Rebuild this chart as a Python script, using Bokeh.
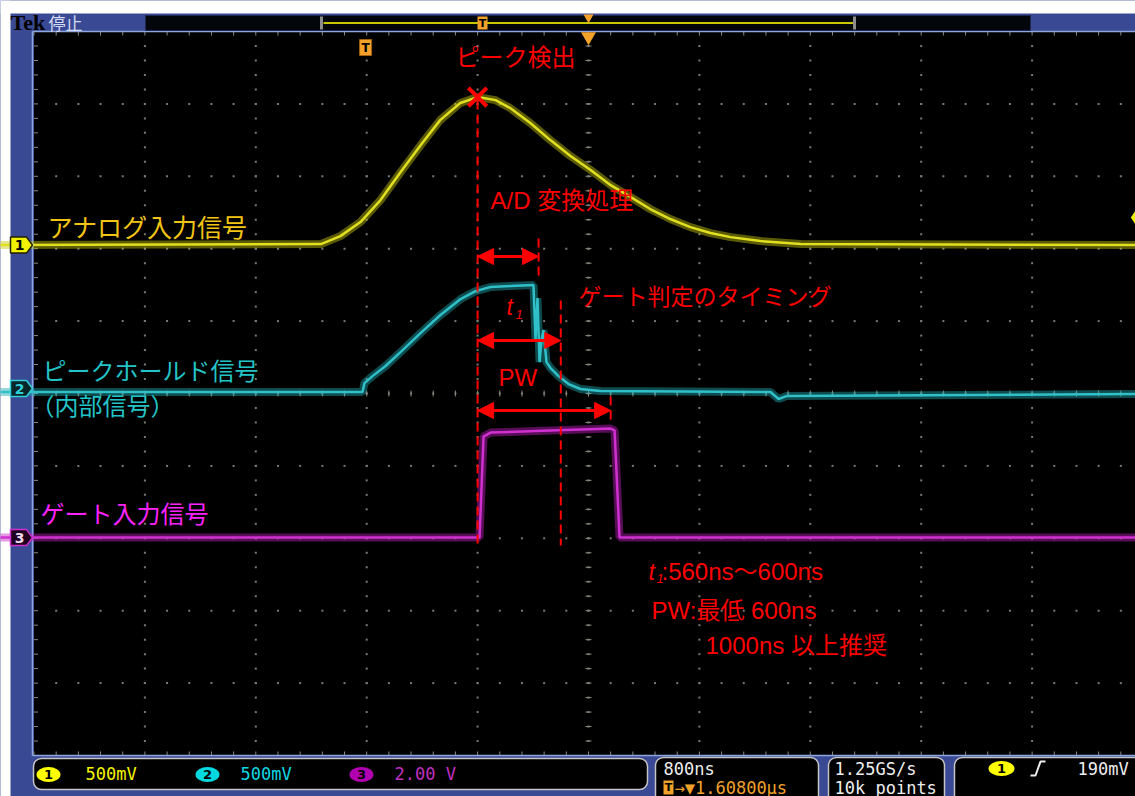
import numpy as np
from bokeh.plotting import figure
from bokeh.models import Range1d, Arrow, NormalHead
from bokeh.core.properties import value
from bokeh.embed import file_html
from bokeh.resources import INLINE

# ---------------- data ----------------
time_per_div_ns = 800          # horizontal scale
ch1_scale_v = 0.5              # V/div
ch2_scale_v = 0.5
ch3_scale_v = 2.0
ch1_offset_div = 2.05          # channel position on screen (divisions)
ch2_offset_div = 0.02
ch3_offset_div = -1.99
trigger_level_v = 0.19
trigger_pos_ns = -1608         # trigger point relative to screen centre

# CH1: analog input signal (time ns, volts)
ch1_t = [-4300, -1930, -1790, -1645, -1500, -1355, -1210, -1070, -925, -800, -670, -565,
         -420, -275, -130, 15, 160, 305, 445, 590, 735, 880, 1025, 1240, 1530, 4000]
ch1_v = [0.0, 0.007, 0.062, 0.159, 0.311, 0.504, 0.691, 0.863, 0.981, 1.022, 1.001, 0.946,
         0.843, 0.725, 0.615, 0.518, 0.414, 0.331, 0.249, 0.180, 0.124, 0.083, 0.055, 0.028, 0.007, 0.0]

# CH2: peak-hold signal (internal)
ch2_t = [-4300, -1630, -1616, -1558, -1464, -1356, -1212, -1068, -923, -815, -707, -563,
         -397, -382, -368, -353, -339, -325, -303, -274, -216, -144, -58, 87, 1313, 1371, 1428, 4000]
ch2_v = [0.0, 0.0, 0.062, 0.110, 0.180, 0.276, 0.407, 0.532, 0.642, 0.697, 0.725, 0.732,
         0.739, 0.359, 0.649, 0.207, 0.359, 0.428, 0.207, 0.166, 0.110, 0.055, 0.021, 0.007,
         0.0, -0.048, -0.028, -0.014]

# CH3: gate input signal
ch3_t = [-4300, -786, -757, -707, -274, 159, 188, 224, 4000]
ch3_v = [0.0, 0.0, 2.79, 2.90, 2.96, 3.01, 2.96, 0.0, 0.0]

# annotation timings (ns)
t_ad_end = -360
t_gate_judge = -200
t_gate_end = 160
i_pk = int(np.argmax(ch1_v))
t_peak = ch1_t[i_pk]
v_peak = ch1_v[i_pk]

# status texts
ch_scale_txt = ["500mV", "500mV", "2.00 V"]
horiz_txt = ["800ns", "1.60800µs"]
acq_txt = ["1.25GS/s", "10k points"]
trig_txt = "190mV"

# ---------------- layout helpers (screen pixels -> data) ----------------
W, H = 1135, 796
CX, CY = 588.0, 393.0
PXD_X, PXD_Y = 110.9, 72.4


def X(px):
    return (px - CX) / PXD_X * time_per_div_ns


def Y(py):
    return (CY - py) / PXD_Y


def DX(px):
    return px / PXD_X * time_per_div_ns


def DY(px):
    return px / PXD_Y


def ch_range(off, sc):
    return Range1d((Y(H) - off) * sc, (Y(0) - off) * sc)


BLUE = "#3a4994"
JP = "Noto Sans CJK JP"
RED_FONT = "Liberation Sans, Noto Sans CJK JP"
MONO = "DejaVu Sans Mono"
RED = "#ff0000"
ORANGE = "#f2a22a"

p = figure(width=W, height=H, x_range=Range1d(X(0), X(W)), y_range=Range1d(Y(H), Y(0)),
           output_backend="svg", toolbar_location=None,
           x_axis_location=None, y_axis_location=None, min_border=0,
           background_fill_color=BLUE, border_fill_color=BLUE, outline_line_color=None)
p.xgrid.visible = False
p.ygrid.visible = False
p.extra_y_ranges = {
    "ch1": ch_range(ch1_offset_div, ch1_scale_v),
    "ch2": ch_range(ch2_offset_div, ch2_scale_v),
    "ch3": ch_range(ch3_offset_div, ch3_scale_v),
}


def txt(px, py, s, color, size, font, style="normal", align="left", baseline="middle"):
    p.text(x=[X(px)], y=[Y(py)], text=[s], text_color=color, text_font_size=f"{size}px",
           text_font=value(font), text_font_style=style, text_align=align,
           text_baseline=baseline)


# white page margins
p.quad(left=[X(0)], right=[X(10)], bottom=[Y(H)], top=[Y(0)], fill_color="white", line_color=None)
p.quad(left=[X(0)], right=[X(W)], bottom=[Y(13)], top=[Y(0)], fill_color="white", line_color=None)

# screen
half = 5 * time_per_div_ns
p.quad(left=[-half], right=[half], bottom=[-5], top=[5], fill_color="black", line_color=None)

# graticule
maj_x = np.arange(-5, 6) * time_per_div_ns
min_x = np.arange(-25, 26) * time_per_div_ns / 5
maj_y = np.arange(-5, 6).astype(float)
min_y = np.arange(-25, 26) / 5
gx, gy = [], []
for mx in maj_x[1:-1]:
    for my in min_y[1:-1]:
        gx.append(mx); gy.append(my)
for my in maj_y[1:-1]:
    for mx in min_x[1:-1]:
        gx.append(mx); gy.append(my)
p.scatter(gx, gy, marker="square", size=2, fill_color="#7a7a72", line_color=None)
GT = "#8a8a80"
n = len(min_y)
p.segment(x0=[-DX(3)] * n, x1=[DX(3)] * n, y0=min_y, y1=min_y, line_color=GT, line_width=1)
p.segment(x0=min_x, x1=min_x, y0=[-DY(3)] * n, y1=[DY(3)] * n, line_color=GT, line_width=1)
p.segment(x0=min_x, x1=min_x, y0=[5] * n, y1=[5 - DY(4)] * n, line_color=GT, line_width=1)
p.segment(x0=min_x, x1=min_x, y0=[-5] * n, y1=[-5 + DY(4)] * n, line_color=GT, line_width=1)
p.segment(x0=[-half] * n, x1=[-half + DX(4)] * n, y0=min_y, y1=min_y, line_color=GT, line_width=1)

# screen border
BL = "#8ea6de"
p.segment(x0=[X(32)], y0=[Y(31)], x1=[X(32)], y1=[Y(755)], line_color=BL, line_width=1.5)
p.segment(x0=[X(32)], y0=[Y(31)], x1=[X(W)], y1=[Y(31)], line_color=BL, line_width=1.5)
p.segment(x0=[X(32)], y0=[Y(755)], x1=[X(W)], y1=[Y(755)], line_color=BL, line_width=1.5)

# traces (a wide translucent band stands in for the scope's noise)
def trace(t, v, rng, core, halo):
    p.line(t, v, y_range_name=rng, line_color=halo, line_width=8, line_alpha=0.45)
    p.line(t, v, y_range_name=rng, line_color=core, line_width=2.5)


trace(ch3_t, ch3_v, "ch3", "#d030d0", "#c020c0")
trace(ch2_t, ch2_v, "ch2", "#30c0c8", "#20a8b0")
trace(ch1_t, ch1_v, "ch1", "#e0e020", "#c8c810")

# channel labels
txt(47, 225, "アナログ入力信号", "#f2c414", 25, JP)
txt(42, 369, "ピークホールド信号", "#22c4c8", 24, JP)
txt(30, 404, "（内部信号）", "#22c4c8", 24, JP)
txt(40, 512, "ゲート入力信号", "#ff22ff", 24, JP)

# red annotations
p.scatter([t_peak], [v_peak], y_range_name="ch1", marker="x", size=26, line_width=4,
          line_color=RED)
txt(455, 57, "ピーク検出", RED, 24, RED_FONT)
DASH = "9 5"
p.segment(x0=[t_peak], x1=[t_peak], y0=[Y(100)], y1=[Y(545)], line_color=RED, line_width=2, line_dash=DASH)
p.segment(x0=[t_ad_end], x1=[t_ad_end], y0=[Y(238)], y1=[Y(278)], line_color=RED, line_width=2, line_dash=DASH)
p.segment(x0=[t_gate_judge], x1=[t_gate_judge], y0=[Y(300)], y1=[Y(545)], line_color=RED, line_width=2, line_dash=DASH)
p.segment(x0=[t_gate_end], x1=[t_gate_end], y0=[Y(396)], y1=[Y(422)], line_color=RED, line_width=2, line_dash=DASH)


def darrow(t0, t1, py):
    p.add_layout(Arrow(start=NormalHead(size=16, fill_color=RED, line_color=RED),
                       end=NormalHead(size=16, fill_color=RED, line_color=RED),
                       x_start=t0, y_start=Y(py), x_end=t1, y_end=Y(py),
                       line_color=RED, line_width=3))


darrow(t_peak, t_ad_end, 256)
darrow(t_peak, t_gate_judge, 340)
darrow(t_peak, t_gate_end, 410)

txt(490, 200, "A/D 変換処理", RED, 24, RED_FONT)
txt(506, 306, "t", RED, 23, RED_FONT, style="italic")
txt(515, 314, "1", RED, 13, RED_FONT, style="italic")
txt(578, 296, "ゲート判定のタイミング", RED, 23, RED_FONT)
txt(498, 377, "PW", RED, 24, RED_FONT)
txt(648, 571, "t", RED, 23, RED_FONT, style="italic")
txt(656, 578, "1", RED, 13, RED_FONT, style="italic")
txt(661, 571, ":560ns～600ns", RED, 24, RED_FONT)
txt(651, 610, "PW:最低 600ns", RED, 24, RED_FONT)
txt(705, 645, "1000ns 以上推奨", RED, 24, RED_FONT)

# channel position markers on the left
def ch_marker(off, fill, line, label, tcolor):
    xs = [X(10), X(26), X(32), X(26), X(10)]
    ys = [off + DY(8), off + DY(8), off, off - DY(8), off - DY(8)]
    p.patch(xs, ys, fill_color=fill, line_color=line, line_width=1.5)
    p.text(x=[X(19)], y=[off], text=[label], text_color=tcolor, text_font_size="14px",
           text_font=value("DejaVu Sans"), text_font_style="bold",
           text_align="center", text_baseline="middle")


ch_marker(ch1_offset_div, "#f0f000", "#202000", "1", "black")
ch_marker(Y(388), "#06262a", "#30d0d8", "2", "#30d0d8")
ch_marker(ch3_offset_div, "#200020", "#d030d0", "3", "#f0d8f0")

# trigger level marker (right edge)
p.scatter([X(1137)], [trigger_level_v], y_range_name="ch1", marker="diamond", size=20,
          fill_color="#f0f000", line_color=None)

# trigger position marker + centre marker
p.quad(left=[trigger_pos_ns - DX(6)], right=[trigger_pos_ns + DX(6)], bottom=[Y(55)], top=[Y(39)],
       fill_color=ORANGE, line_color="#a06010")
p.text(x=[trigger_pos_ns], y=[Y(47)], text=["T"], text_color="black", text_font_size="12px",
       text_font=value("DejaVu Sans"), text_font_style="bold", text_align="center", text_baseline="middle")
p.scatter([0], [Y(36)], marker="inverted_triangle", size=15, fill_color=ORANGE, line_color=None)

# ---------------- top bar ----------------
txt(10, 22, "Tek", "black", 22, "Liberation Serif", style="bold")
txt(48, 22, "停止", "#d4dcf4", 17, JP)
p.quad(left=[X(145)], right=[X(1030)], bottom=[Y(30)], top=[Y(15)], fill_color="#03070c",
       line_color="#1e2850", line_width=1)
p.segment(x0=[X(323)], x1=[X(853)], y0=[Y(22.5)], y1=[Y(22.5)], line_color="#c8c800", line_width=2)
p.segment(x0=[X(321), X(854)], x1=[X(321), X(854)], y0=[Y(16)] * 2, y1=[Y(29)] * 2,
          line_color="#8c8c8c", line_width=3)
p.quad(left=[X(477)], right=[X(487)], bottom=[Y(29)], top=[Y(16)], fill_color=ORANGE, line_color=None)
txt(482, 22.5, "T", "black", 11, "DejaVu Sans", style="bold", align="center")
p.scatter([0], [Y(17)], marker="inverted_triangle", size=10, fill_color=ORANGE, line_color=None)

# ---------------- bottom status bar ----------------
BOXL = "#c4c4c4"
p.quad(left=[X(33)], right=[X(647)], top=[Y(758)], bottom=[Y(789)], fill_color="black",
       line_color=BOXL, line_width=1.5, border_radius=8)
for l, r in [(655, 818), (828, 944), (954, 1150)]:
    p.quad(left=[X(l)], right=[X(r)], top=[Y(757)], bottom=[Y(806)], fill_color="black",
           line_color=BOXL, line_width=1.5, border_radius=8)

badge_cols = ["#ffff00", "#00d8e0", "#b000b0"]
text_cols = ["#f4f400", "#10d8e0", "#c030c0"]
badge_x = [48, 207, 361]
text_x = [85, 240, 394]
for i in range(3):
    p.ellipse(x=[X(badge_x[i])], y=[Y(774)], width=24, height=15, width_units="screen",
              height_units="screen", fill_color=badge_cols[i], line_color=None)
    txt(badge_x[i], 774, str(i + 1), "black", 13, "DejaVu Sans", style="bold", align="center")
    txt(text_x[i], 773, ch_scale_txt[i], text_cols[i], 17, MONO)

txt(663, 768, horiz_txt[0], "#eeeeee", 17, MONO)
p.quad(left=[X(663)], right=[X(673)], top=[Y(780)], bottom=[Y(794)], fill_color=ORANGE, line_color=None)
txt(668, 787, "T", "black", 11, "DejaVu Sans", style="bold", align="center")
txt(674, 787, "→▼" + horiz_txt[1], ORANGE, 17, MONO)
txt(834, 768, acq_txt[0], "#eeeeee", 17, MONO)
txt(834, 787, acq_txt[1], "#eeeeee", 17, MONO)
p.ellipse(x=[X(1001)], y=[Y(768)], width=26, height=15, width_units="screen",
          height_units="screen", fill_color="#ffff00", line_color=None)
txt(1001, 768, "1", "black", 13, "DejaVu Sans", style="bold", align="center")
p.line([X(1030), X(1035), X(1040), X(1045)], [Y(775), Y(775), Y(761), Y(761)],
       line_color="#eeeeee", line_width=2)
txt(1077, 768, trig_txt, "#eeeeee", 17, MONO)

open("out.html", "w").write(file_html(p, INLINE))
